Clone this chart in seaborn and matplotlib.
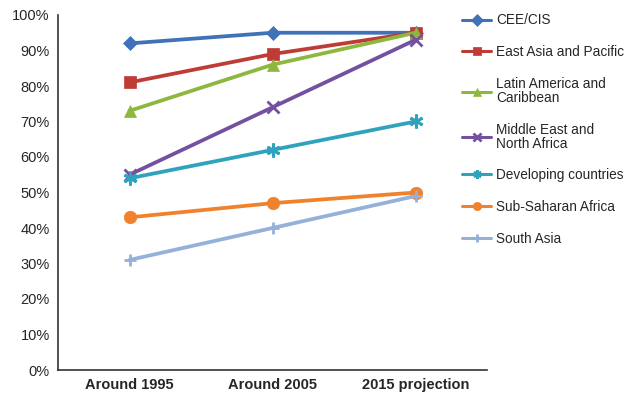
import matplotlib
matplotlib.use("Agg")
import matplotlib.pyplot as plt
import seaborn as sns
import pandas as pd
from matplotlib.ticker import FixedLocator, PercentFormatter

periods = ["Around 1995", "Around 2005", "2015 projection"]
series_names = ["CEE/CIS", "East Asia and Pacific", "Latin America and\nCaribbean",
                "Middle East and\nNorth Africa", "Developing countries",
                "Sub-Saharan Africa", "South Asia"]
cee_cis = [92, 95, 95]
east_asia = [81, 89, 95]
latin_america = [73, 86, 95]
mena = [55, 74, 93]
developing = [54, 62, 70]
ssa = [43, 47, 50]
south_asia = [31, 40, 49]
values = [cee_cis, east_asia, latin_america, mena, developing, ssa, south_asia]

colors = ["#3F72B8", "#BE3B36", "#8DB83F", "#7451A0", "#2FA3BC", "#F0822E", "#94B1DA"]
markers = ["D", "s", "^", "x", (6, 2, 0), "o", "+"]
msizes = [7, 9, 9, 9, 10, 9, 9]

rows = []
for name, vals in zip(series_names, values):
    for i, v in enumerate(vals):
        rows.append({"period": i, "series": name, "value": v})
df = pd.DataFrame(rows)

sns.set_theme(style="white")
plt.rcParams['font.family'] = ['Liberation Sans', 'DejaVu Sans']

fig = plt.figure(figsize=(6.24, 3.95), dpi=100)
ax = fig.add_axes([58/624, 1-370/395, (487-58)/624, (370-15)/395])

for name, c, m, ms in zip(series_names, colors, markers, msizes):
    sub = df[df["series"] == name]
    sns.lineplot(data=sub, x="period", y="value", ax=ax, color=c, marker=m,
                 markersize=ms, linewidth=2.7, markeredgewidth=2 if m in ("x", "+", (6, 2, 0)) else 0.5,
                 markeredgecolor=c, label=name)

ax.set_xlim(-0.5, 2.5)
ax.set_ylim(0, 100)
ax.yaxis.set_major_locator(FixedLocator(range(0, 101, 10)))
ax.yaxis.set_major_formatter(PercentFormatter(decimals=0))
ax.set_xticks([0, 1, 2])
ax.set_xticklabels(periods, fontweight="bold", fontsize=10.5)
ax.xaxis.set_minor_locator(FixedLocator([-0.5, 0.5, 1.5, 2.5]))
ax.tick_params(axis="x", which="major", length=0, pad=6)
ax.tick_params(axis="x", which="minor", length=4, width=1, direction="in", color="#333333")
ax.tick_params(axis="y", which="major", length=4, width=1, direction="out", labelsize=10.5,
               color="#333333", pad=2)
ax.set_xlabel("")
ax.set_ylabel("")
for s in ["top", "right"]:
    ax.spines[s].set_visible(False)
for s in ["left", "bottom"]:
    ax.spines[s].set_color("#333333")
    ax.spines[s].set_linewidth(1.2)

leg = ax.legend(loc="upper left", bbox_to_anchor=(457/624, 1-8/395), bbox_transform=fig.transFigure,
                frameon=False, fontsize=9.8, labelspacing=1.3, handlelength=2.1,
                handletextpad=0.35, borderaxespad=0)
for t in leg.get_texts():
    t.set_linespacing(1.0)
for line in leg.get_lines():
    line.set_linewidth(2.2)
    line.set_markersize(6)

fig.savefig("out.png", dpi=100)
